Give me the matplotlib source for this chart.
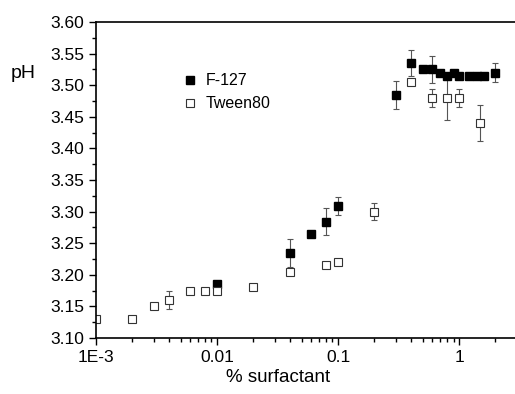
import matplotlib.pyplot as plt
from matplotlib.lines import Line2D
from matplotlib.ticker import LogLocator, FixedLocator, MultipleLocator, FixedFormatter

plt.rcParams['font.family'] = ['Liberation Sans', 'DejaVu Sans']

f127_x = [0.01, 0.04, 0.06, 0.08, 0.1, 0.3, 0.4, 0.5, 0.6, 0.7, 0.8, 0.9, 1.0, 1.2, 1.4, 1.6, 2.0]
f127_y = [3.185, 3.234, 3.265, 3.284, 3.309, 3.485, 3.535, 3.525, 3.525, 3.52,
          3.515, 3.52, 3.515, 3.515, 3.515, 3.515, 3.52]
f127_err = [0.003, 0.022, 0.004, 0.021, 0.014, 0.022, 0.021, 0.004, 0.021, 0.004,
            0.004, 0.004, 0.004, 0.004, 0.004, 0.004, 0.015]

tween_x = [0.001, 0.002, 0.003, 0.004, 0.006, 0.008, 0.01, 0.02, 0.04, 0.08, 0.1, 0.2,
           0.4, 0.6, 0.8, 1.0, 1.5]
tween_y = [3.13, 3.13, 3.15, 3.16, 3.175, 3.175, 3.175, 3.18, 3.205, 3.215, 3.22, 3.30,
           3.505, 3.48, 3.48, 3.48, 3.44]
tween_err = [0, 0, 0.003, 0.014, 0.004, 0.004, 0.004, 0, 0.004, 0.004, 0, 0.014,
             0.004, 0.014, 0.035, 0.014, 0.028]

x_ticks = [0.001, 0.01, 0.1, 1]
x_labels = ["1E-3", "0.01", "0.1", "1"]

fig = plt.figure(figsize=(5.15, 3.94), dpi=100)
ax = fig.add_axes([96/515, 56/394, 419/515, 316/394])

ax.errorbar(f127_x, f127_y, yerr=f127_err, fmt='s', ms=5.5, mfc='black', mec='black',
            ecolor='#555555', elinewidth=0.8, capsize=2.5, capthick=0.8)
ax.errorbar(tween_x, tween_y, yerr=tween_err, fmt='s', ms=5.5, mfc='white', mec='#333333',
            mew=0.8, ecolor='#555555', elinewidth=0.8, capsize=2.5, capthick=0.8)

ax.set_xscale('log')
ax.set_xlim(1e-3, 2.9)
ax.set_ylim(3.10, 3.60)
ax.xaxis.set_major_locator(FixedLocator(x_ticks))
ax.xaxis.set_major_formatter(FixedFormatter(x_labels))
ax.xaxis.set_minor_locator(LogLocator(base=10, subs=range(2, 10)))
ax.yaxis.set_major_locator(MultipleLocator(0.05))
ax.yaxis.set_minor_locator(MultipleLocator(0.025))
ax.yaxis.set_major_formatter(plt.FormatStrFormatter('%.2f'))
ax.tick_params(which='major', direction='out', length=5, width=1, labelsize=12.5)
ax.tick_params(which='minor', direction='out', length=3, width=1)
ax.spines['right'].set_visible(False)
for s in ['top', 'left', 'bottom']:
    ax.spines[s].set_linewidth(1.2)

fig.text(278/515, 1 - 378/394, "% surfactant", fontsize=13.5, ha='center', va='center')
fig.text(11/515, 1 - 73/394, "pH", fontsize=14, va='center', ha='left')

handles = [Line2D([], [], ls='none', marker='s', ms=5.5, mfc='black', mec='black'),
           Line2D([], [], ls='none', marker='s', ms=5.5, mfc='white', mec='#333333', mew=0.8)]
ax.legend(handles, ["F-127", "Tween80"], loc='upper left',
          bbox_to_anchor=(166/515, 1 - 59/394), bbox_transform=fig.transFigure,
          frameon=False, fontsize=11.5, handlelength=1.2, handletextpad=0.4,
          labelspacing=0.5)

plt.savefig("out.png", dpi=100)
plt.close(fig)
